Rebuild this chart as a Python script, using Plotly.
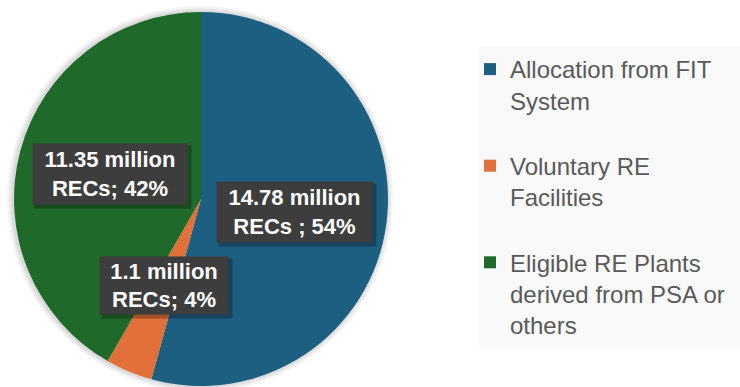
import plotly.graph_objects as go

# ---- data ----
categories = ["Allocation from FIT<br>System",
              "Voluntary RE<br>Facilities",
              "Eligible RE Plants<br>derived from PSA or<br>others"]
values = [14.78, 1.1, 11.35]          # million RECs
data_labels = ["14.78 million<br>RECs ; 54%",
               "1.1 million<br>RECs; 4%",
               "11.35 million<br>RECs; 42%"]
colors = ["#1d5f81", "#e1703a", "#1f6a2a"]

W, H = 740, 387
FONT = "Arial, Liberation Sans, sans-serif"

def px(x):
    return x / W

def py(y):
    return 1 - y / H

cx, cy, r = 201, 199, 187

fig = go.Figure()

fig.add_trace(go.Pie(
    labels=[c + "<br> " if i < 2 else c for i, c in enumerate(categories)],
    values=values,
    sort=False,
    direction="clockwise",
    rotation=0,
    marker=dict(colors=colors, line=dict(width=0)),
    textinfo="none",
    hoverinfo="label+value+percent",
    domain=dict(x=[px(cx - r), px(cx + r)], y=[py(cy + r), py(cy - r)]),
    showlegend=True,
))

shapes = []
# soft shadow around pie
for d, a in [(6, 0.04), (4, 0.05), (2, 0.06)]:
    shapes.append(dict(type="circle", xref="paper", yref="paper",
                       x0=px(cx - r - d - 1), x1=px(cx + r + d - 1),
                       y0=py(cy + r + d), y1=py(cy - r - d),
                       fillcolor=f"rgba(0,0,0,{a})", line=dict(width=0),
                       layer="below"))
# legend background
shapes.append(dict(type="rect", xref="paper", yref="paper",
                   x0=px(479), x1=1.01, y0=py(349), y1=py(47),
                   fillcolor="#f9f9f9", line=dict(width=0), layer="below"))

# data label boxes (center positions in pixels)
label_pos = [(294.5, 212), (164, 285), (110, 174)]
label_size = [(155, 60), (128, 57), (154, 60)]
annotations = []
for (lx, ly), (bw, bh) in zip(label_pos, label_size):
    annotations.append(dict(
        x=px(lx), y=py(ly), xref="paper", yref="paper",
        xanchor="center", yanchor="middle",
        text=" ", showarrow=False, width=bw, height=bh,
        bgcolor="rgba(0,0,0,0.28)", xshift=3, yshift=-3,
    ))
for (lx, ly), (bw, bh), txt in zip(label_pos, label_size, data_labels):
    annotations.append(dict(
        x=px(lx), y=py(ly), xref="paper", yref="paper",
        xanchor="center", yanchor="middle",
        text="<b>" + txt + "</b>", showarrow=False, width=bw, height=bh,
        bgcolor="#3d3d3d", borderpad=0,
        font=dict(family=FONT, size=22, color="white"),
        align="center", valign="middle",
    ))

fig.update_layout(
    width=W, height=H,
    margin=dict(l=0, r=0, t=0, b=0),
    paper_bgcolor="white",
    plot_bgcolor="white",
    shapes=shapes,
    annotations=annotations,
    legend=dict(
        x=px(470), y=py(47), xanchor="left", yanchor="top",
        xref="paper", yref="paper",
        bgcolor="rgba(0,0,0,0)",
        font=dict(family=FONT, size=24, color="#595959"),
        valign="top",
        traceorder="normal",
    ),
)

fig.write_html("out.html")
